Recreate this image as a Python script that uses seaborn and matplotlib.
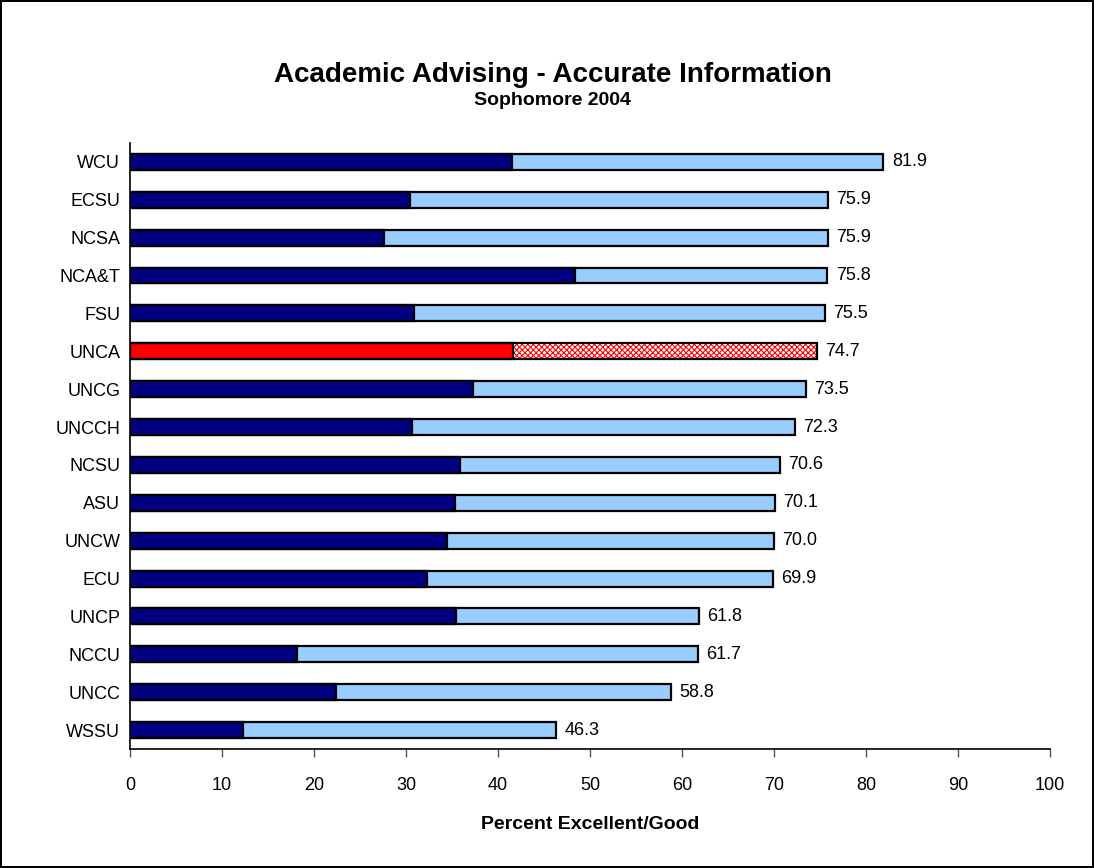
import matplotlib
matplotlib.use("Agg")
import matplotlib.pyplot as plt
import seaborn as sns
import pandas as pd

# data
schools = ["WCU", "ECSU", "NCSA", "NCA&T", "FSU", "UNCA", "UNCG", "UNCCH",
           "NCSU", "ASU", "UNCW", "ECU", "UNCP", "NCCU", "UNCC", "WSSU"]
pct_total = [81.9, 75.9, 75.9, 75.8, 75.5, 74.7, 73.5, 72.3,
             70.6, 70.1, 70.0, 69.9, 61.8, 61.7, 58.8, 46.3]
pct_excellent = [41.5, 30.4, 27.6, 48.4, 30.9, 41.6, 37.3, 30.7,
                 35.9, 35.3, 34.5, 32.3, 35.4, 18.2, 22.4, 12.3]
highlight = "UNCA"
x_ticks = list(range(0, 101, 10))

DARK = "#000080"
LIGHT = "#99CCFF"
RED = "#FF0000"


def main():
    df = pd.DataFrame({"school": schools, "total": pct_total, "excellent": pct_excellent})

    sns.set_style("white")
    plt.rcParams["font.family"] = ["Liberation Sans", "DejaVu Sans"]
    plt.rcParams["hatch.linewidth"] = 0.8
    for key in ("text.color", "axes.labelcolor", "xtick.color", "ytick.color"):
        plt.rcParams[key] = "black"

    fig = plt.figure(figsize=(10.94, 8.68), dpi=100, facecolor="white",
                     edgecolor="black", linewidth=1.5)
    ax = fig.add_axes([0.1188, 0.1371, 0.8410, 0.6982])

    light_pal = {s: ("white" if s == highlight else LIGHT) for s in schools}
    dark_pal = {s: (RED if s == highlight else DARK) for s in schools}

    # full bar (excellent + good)
    sns.barplot(data=df, y="school", x="total", hue="school", palette=light_pal,
                order=schools, orient="h", width=0.42, edgecolor="black",
                linewidth=1.6, saturation=1, legend=False, ax=ax)
    light_bars = [p for p in ax.patches]

    # red checker hatch for the highlighted school
    idx = schools.index(highlight)
    hb = light_bars[idx]
    hb.set_hatch("xxxxxx")
    hb.set_edgecolor(RED)
    hb.set_linewidth(0)
    ax.barh(idx, pct_total[idx], height=0.42, fill=False, edgecolor="black",
            linewidth=1.6, zorder=3)

    # excellent part on top
    sns.barplot(data=df, y="school", x="excellent", hue="school", palette=dark_pal,
                order=schools, orient="h", width=0.42, edgecolor="black",
                linewidth=1.6, saturation=1, legend=False, ax=ax)

    for i, v in enumerate(pct_total):
        ax.annotate(f"{v:.1f}", xy=(v, i), xytext=(6, 0), textcoords="offset points",
                    ha="left", va="center", fontsize=13)

    ax.set_xlim(0, 100)
    ax.set_ylim(15.5, -0.5)
    ax.set_xticks(x_ticks)
    ax.tick_params(axis="x", bottom=True, direction="out", length=6, width=1,
                   color="#555555", labelsize=13, pad=14)
    ax.tick_params(axis="y", left=False, length=0, labelsize=13, pad=7)
    ax.set_xlabel("Percent Excellent/Good", fontsize=14, fontweight="bold", labelpad=16)
    ax.set_ylabel("")
    sns.despine(ax=ax)
    for side in ("left", "bottom"):
        ax.spines[side].set_color("black")
        ax.spines[side].set_linewidth(1.2)

    fig.text(0.505, 0.914, "Academic Advising - Accurate Information",
             ha="center", va="center", fontsize=20, fontweight="bold")
    fig.text(0.505, 0.884, "Sophomore 2004", ha="center", va="center",
             fontsize=14, fontweight="bold")

    fig.savefig("out.png", dpi=100, facecolor=fig.get_facecolor(),
                edgecolor=fig.get_edgecolor())


if __name__ == "__main__":
    main()
